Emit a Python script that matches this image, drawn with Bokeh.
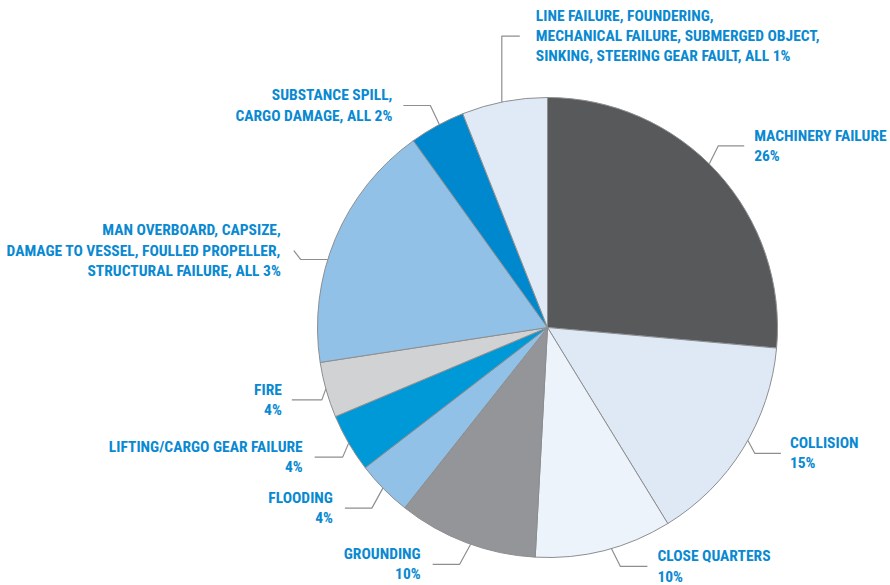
import math
from bokeh.plotting import figure
from bokeh.models import Range1d, ColumnDataSource
from bokeh.core.properties import value
from bokeh.embed import file_html
from bokeh.resources import INLINE

# ---- data (clockwise from 12 o'clock) ----
categories = [
    "MACHINERY FAILURE",
    "COLLISION",
    "CLOSE QUARTERS",
    "GROUNDING",
    "FLOODING",
    "LIFTING/CARGO GEAR FAILURE",
    "FIRE",
    "MAN OVERBOARD, CAPSIZE,\nDAMAGE TO VESSEL, FOULLED PROPELLER,\nSTRUCTURAL FAILURE, ALL 3%",
    "SUBSTANCE SPILL,\nCARGO DAMAGE, ALL 2%",
    "LINE FAILURE, FOUNDERING,\nMECHANICAL FAILURE, SUBMERGED OBJECT,\nSINKING, STEERING GEAR FAULT, ALL 1%",
]
pct_labels = ["26%", "15%", "10%", "10%", "4%", "4%", "4%", "", "", ""]
values = [26.4, 14.8, 9.6, 9.8, 3.9, 4.1, 3.9, 17.5, 3.9, 6.0]
colors = ["#58595b", "#dfe9f6", "#edf3fb", "#939598", "#92c1e7",
          "#0099d8", "#d1d2d4", "#92c1e7", "#0088cf", "#e0eaf6"]

# ---- layout / style ----
W, H = 890, 585
CX, CY, R = 547, 258, 230
TEXT_COLOR = "#0889d1"
LINE_COLOR = "#8c8e90"
FONT = "Roboto Condensed, Roboto"

# leader: angle shift (deg), seg1 (dx, dy), seg2 (dx, dy), label gap, align
leaders = [
    (2.9, (9, 18), (26, 0), 10, "left"),
    (2.4, (7, -13), (26, 0), 9, "left"),
    (1.9, (9, -18), (27, 0), 10, "left"),
    (1.2, (-11, -20), (-27, 0), -12, "right"),
    (-0.3, (-11, -20), (-27, 0), -12, "right"),
    (0.0, (-6, -14), (-28, 0), -12, "right"),
    (-0.3, (-4, -11), (-30, 0), -10, "right"),
    (5.6, (-27, 0), (-7, 9), -13, "right"),
    (-0.6, (-9, 19), (-27, 0), -11, "right"),
    (0.65, (0, 66), (18, 0), 16, "left"),
]

total = sum(values)
starts, ends, mids = [], [], []
cum = 0.0
for v in values:
    a0 = math.pi / 2 - 2 * math.pi * cum / total
    cum += v
    a1 = math.pi / 2 - 2 * math.pi * cum / total
    starts.append(a0)
    ends.append(a1)
    mids.append((a0 + a1) / 2)

p = figure(width=W, height=H, x_range=Range1d(0, W), y_range=Range1d(0, H),
           output_backend="svg", toolbar_location=None, min_border=0,
           x_axis_type=None, y_axis_type=None)
p.grid.visible = False
p.outline_line_color = None
p.background_fill_color = "white"

src = ColumnDataSource(dict(start=starts, end=ends, color=colors))
p.wedge(x=CX, y=CY, radius=R, start_angle="start", end_angle="end",
        direction="clock", fill_color="color", line_color=LINE_COLOR,
        line_width=1, source=src)

xs, ys = [], []
lx = {"left": [], "right": []}
ly = {"left": [], "right": []}
lt = {"left": [], "right": []}
for i, m in enumerate(mids):
    shift, s1, s2, gap, align = leaders[i]
    a = m + math.radians(shift)
    x0, y0 = CX + R * math.cos(a), CY + R * math.sin(a)
    x1, y1 = x0 + s1[0], y0 + s1[1]
    x2, y2 = x1 + s2[0], y1 + s2[1]
    xs.append([x0, x1, x2])
    ys.append([y0, y1, y2])
    txt = categories[i] + ("\n" + pct_labels[i] if pct_labels[i] else "")
    lx[align].append(x2 + gap)
    ly[align].append(y2)
    lt[align].append(txt)

p.multi_line(xs=xs, ys=ys, line_color=LINE_COLOR, line_width=1.2)

for align in ("left", "right"):
    p.text(x=lx[align], y=ly[align], text=lt[align], text_align=align,
           text_baseline="middle", text_font=value(FONT), text_font_style="bold",
           text_font_size=value("15.5px"), text_line_height=1.12,
           text_color=TEXT_COLOR)

open("out.html", "w").write(file_html(p, INLINE))
